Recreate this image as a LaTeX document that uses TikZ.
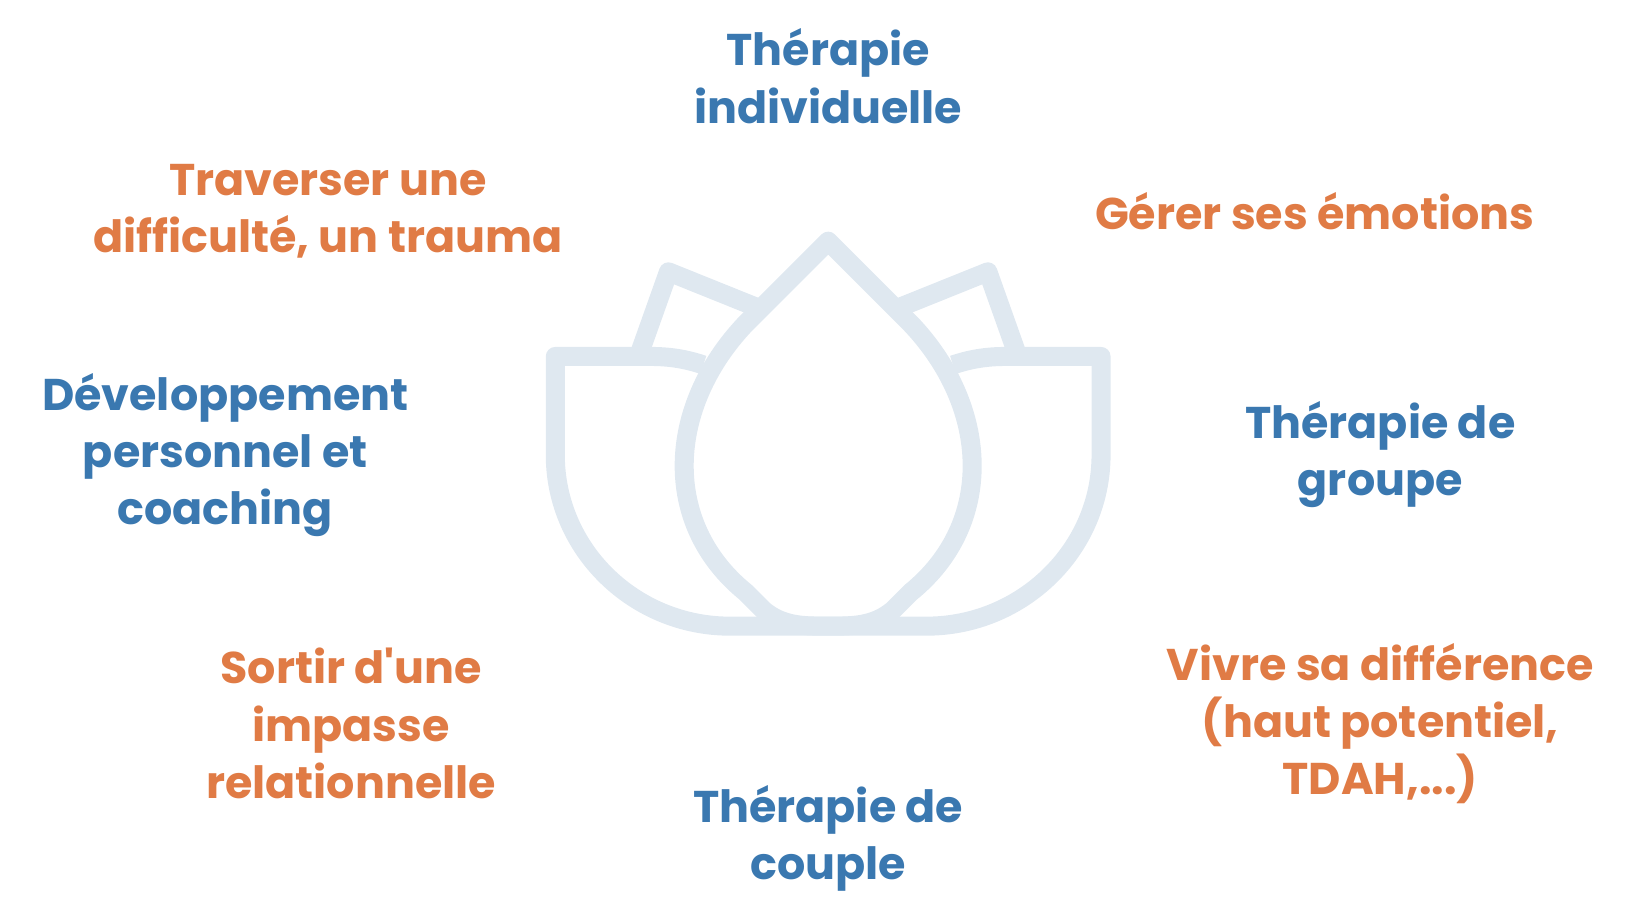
\documentclass[tikz,border=0pt]{standalone}
\usepackage{fontspec}
\setmainfont{Poppins}
\usetikzlibrary{positioning}
\definecolor{lotus}{HTML}{DFE8F0}
\definecolor{bluetxt}{HTML}{3A78B0}
\definecolor{orangetxt}{HTML}{E07B45}
\tikzset{
  theme/.style={align=center, font=\bfseries\fontsize{42}{54}\selectfont},
  bluelab/.style={theme, text=bluetxt},
  orangelab/.style={theme, text=orangetxt},
  lotusline/.style={draw=lotus, line width=18pt, line join=round}
}
\begin{document}
\begin{tikzpicture}[x=1pt,y=-1pt]
\useasboundingbox (0,0) rectangle (1560,870);
% lotus
\draw[lotusline] (783,228) -- (705,306) .. controls (630,385) and (625,495) .. (705,560)
  -- (722,577) .. controls (740,592) and (760,592) .. (783,592) .. controls (806,592) and (826,592) .. (844,577)
  -- (861,560) .. controls (941,495) and (936,385) .. (861,306) -- cycle;
\draw[lotusline] (665,345) .. controls (650,340) and (635,337) .. (615,337) -- (525,337) -- (525,430)
  .. controls (525,520) and (600,592) .. (690,592) -- (876,592)
  .. controls (966,592) and (1041,520) .. (1041,430) -- (1041,337) -- (951,337)
  .. controls (931,337) and (916,340) .. (901,345);
\draw[lotusline] (605,333) -- (632,257) -- (714,290);
\draw[lotusline] (961,333) -- (934,257) -- (852,290);
% labels
\node[bluelab] (indiv) at (783,72) {Thérapie\\individuelle};
\node[orangelab] (trauma) at (310,200) {Traverser une\\difficulté, un trauma};
\node[orangelab] (emotions) at (1243,200) {Gérer ses émotions};
\node[bluelab] (coaching) at (213,430) {Développement\\personnel et\\coaching};
\node[bluelab] (groupe) at (1305,430) {Thérapie de\\groupe};
\node[orangelab] (impasse) at (332,684) {Sortir d\textquotesingle une\\impasse\\relationnelle};
\node[orangelab] (difference) at (1305,684) {Vivre sa différence\\(haut potentiel,\\TDAH,...)};
\node[bluelab] (couple) at (783,793) {Thérapie de\\couple};
\end{tikzpicture}
\end{document}
